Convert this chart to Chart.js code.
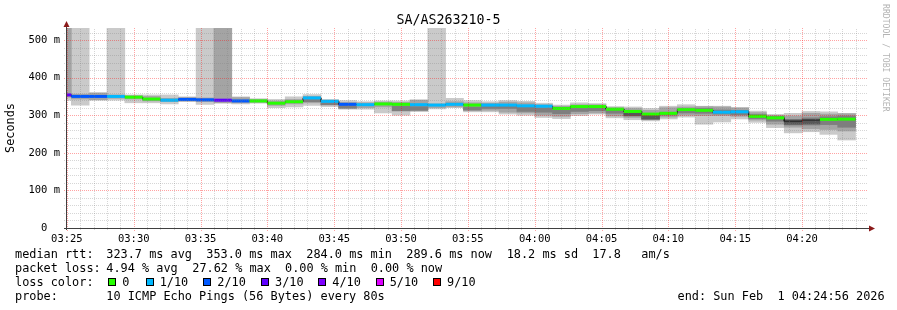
<!DOCTYPE html>
<html>
<head>
<meta charset="utf-8">
<title>SA/AS263210-5</title>
<script src="https://cdn.jsdelivr.net/npm/chart.js@4.4.1/dist/chart.umd.min.js"></script>
<style>
  html, body { margin:0; padding:0; background:#ffffff; }
  #wrap { position:relative; width:897px; height:310px; overflow:hidden; background:#fff;
          font-family:'DejaVu Sans Mono', monospace; color:#000; }
  #c { position:absolute; left:0; top:0; }
  .t { position:absolute; white-space:pre; font-size:11.86px; line-height:14px; }
  .sq { position:absolute; width:6px; height:6px; border:1px solid #000; top:278px; }
  #title { position:absolute; left:0; top:12px; width:897px; text-align:center; font-size:13.3px; line-height:16px; white-space:pre; }
  #rrd { position:absolute; left:881px; top:4px; writing-mode:vertical-rl; font-size:8.15px; line-height:10px; color:#b4b4b4; white-space:pre; }
</style>
</head>
<body>
<div id="wrap">
  <canvas id="c" width="897" height="310"></canvas>
  <div id="title">SA/AS263210-5</div>
  <div id="rrd">RRDTOOL / TOBI OETIKER</div>

  <span class="t" style="left:15px;top:247px">median rtt:</span>
  <span class="t" style="left:106.3px;top:247px">323.7 ms avg</span>
  <span class="t" style="left:206.3px;top:247px">353.0 ms max</span>
  <span class="t" style="left:306.3px;top:247px">284.0 ms min</span>
  <span class="t" style="left:406.3px;top:247px">289.6 ms now</span>
  <span class="t" style="left:506.7px;top:247px">18.2 ms sd</span>
  <span class="t" style="left:592.3px;top:247px">17.8</span>
  <span class="t" style="left:641.3px;top:247px">am/s</span>

  <span class="t" style="left:15px;top:261px">packet loss:</span>
  <span class="t" style="left:106.3px;top:261px">4.94 % avg</span>
  <span class="t" style="left:192.3px;top:261px">27.62 % max</span>
  <span class="t" style="left:285px;top:261px">0.00 % min</span>
  <span class="t" style="left:370.7px;top:261px">0.00 % now</span>

  <span class="t" style="left:15px;top:275px">loss color:</span>
  <span class="sq" id="sq0" style="left:108px"></span><span class="t" style="left:122.3px;top:275px">0</span>
  <span class="sq" id="sq1" style="left:145.5px"></span><span class="t" style="left:159.7px;top:275px">1/10</span>
  <span class="sq" id="sq2" style="left:203px"></span><span class="t" style="left:217.3px;top:275px">2/10</span>
  <span class="sq" id="sq3" style="left:260.5px"></span><span class="t" style="left:275px;top:275px">3/10</span>
  <span class="sq" id="sq4" style="left:318px"></span><span class="t" style="left:332.3px;top:275px">4/10</span>
  <span class="sq" id="sq5" style="left:375.5px"></span><span class="t" style="left:389.7px;top:275px">5/10</span>
  <span class="sq" id="sq9" style="left:433px"></span><span class="t" style="left:447px;top:275px">9/10</span>

  <span class="t" style="left:15px;top:289px">probe:</span>
  <span class="t" style="left:106.3px;top:289px">10 ICMP Echo Pings (56 Bytes) every 80s</span>
  <span class="t" style="left:677.5px;top:289px">end: Sun Feb  1 04:24:56 2026</span>
</div>
<script>
// ---------------- data ----------------
const END_TIME = '04:24:56';
const WINDOW_SEC = 3600;
const STEP_SEC = 80;
const Y_MAX = 532;            // top of value axis (ms); smoke of lost pings reaches it
const T = Y_MAX;

const xTickLabels = ['03:25','03:30','03:35','03:40','03:45','03:50','03:55','04:00','04:05','04:10','04:15','04:20'];
const yTickValues = [0, 100, 200, 300, 400, 500];

// end time of each 80 s step
const stepEnd = ['03:25:20','03:26:40','03:28:00','03:29:20','03:30:40','03:32:00','03:33:20','03:34:40','03:36:00',
  '03:37:20','03:38:40','03:40:00','03:41:20','03:42:40','03:44:00','03:45:20','03:46:40','03:48:00','03:49:20',
  '03:50:40','03:52:00','03:53:20','03:54:40','03:56:00','03:57:20','03:58:40','04:00:00','04:01:20','04:02:40',
  '04:04:00','04:05:20','04:06:40','04:08:00','04:09:20','04:10:40','04:12:00','04:13:20','04:14:40','04:16:00',
  '04:17:20','04:18:40','04:20:00','04:21:20','04:22:40','04:24:00'];

// median rtt (ms)
const median = [354,350,350,350,348,343,340,342,341,340,338,338,332,336,346,337,329,328,330,329,
  328,327,329,327,327,327,325,324,318,323,323,316,310,303,305,315,313,308,309,297,
  293,284,287,289,289.6];

// lost pings out of 10 (null = no loss colour drawn)
const loss = [3,2,2,1,0,0,1,2,2,3,2,0,0,0,1,1,2,1,0,0,1,1,1,0,1,1,1,1,0,0,0,0,0,0,0,0,0,1,1,0,0,null,null,0,0];

// smoke bands (ms): outer -> inner
const smoke1Lo = [340,327,340,340,333,333,330,336,329,333,330,332,320,322,326,323,316,316,306,300,
  311,317,320,309,309,303,300,294,291,299,303,293,288,285,290,295,276,282,290,281,267,253,256,249,234];
const smoke1Hi = [T,T,360,T,354,354,354,349,T,T,349,344,342,349,355,342,339,336,338,338,
  341,T,345,339,336,339,337,332,327,333,331,323,322,318,324,328,324,324,321,311,302,305,310,309,305];
const smoke2Lo = [348,343,341,345,343,338,336,338,336,333,333,334,326,330,333,327,318,320,322,311,
  311,320,322,312,313,308,306,300,297,304,306,298,294,288,295,300,299,299,297,287,276,268,264,262,258];
const smoke2Hi = [T,356,359,354,352,350,345,347,346,T,347,342,338,342,350,339,334,333,335,334,
  340,330,336,333,332,335,333,328,324,328,328,320,318,313,320,322,323,322,319,307,300,298,305,303,304];
const smoke3Lo = [null,null,null,null,null,null,null,null,null,null,null,null,null,null,336,328,319,null,null,312,
  313,null,null,314,318,318,310,308,304,310,312,305,298,289,300,306,305,303,301,291,284,274,274,275,268];
const smoke3Hi = [null,null,null,null,null,null,null,null,null,null,null,null,null,null,342,334,326,null,null,324,
  323,null,null,322,324,325,321,320,314,318,320,313,307,300,308,312,318,314,313,302,297,289,293,296,298];
const smoke4Lo = [null,null,null,null,null,null,null,null,null,null,null,null,null,null,null,null,null,null,null,null,
  null,null,null,null,null,null,null,null,null,null,null,null,299,290,null,null,null,null,null,null,null,276,277,null,null];
const smoke4Hi = [null,null,null,null,null,null,null,null,null,null,null,null,null,null,null,null,null,null,null,null,
  null,null,null,null,null,null,null,null,null,null,null,null,306,300,null,null,null,null,null,null,null,287,288,null,null];

const lossColors = {0:'#26ff00', 1:'#00b8ff', 2:'#0059ff', 3:'#5e00ff', 4:'#7e00ff', 5:'#dd00ff', 9:'#ff0000'};

// ---------------- styling ----------------
const FONT = 'DejaVu Sans Mono';
const GRID_MINOR = 'rgba(128,128,128,0.32)';
const GRID_MAJOR = 'rgba(255,0,0,0.36)';
const AXIS = '#404040';
const ARROW = '#8b1a1a';

Object.keys(lossColors).forEach(k => {
  const el = document.getElementById('sq' + k);
  if (el) el.style.background = lossColors[k];
});

const toSec = s => { const p = s.split(':').map(Number); return p[0]*3600 + p[1]*60 + (p[2] || 0); };
const pad2 = n => String(n).padStart(2, '0');
const fmt = v => pad2(Math.floor(v / 3600)) + ':' + pad2(Math.floor((v % 3600) / 60));
const X_MAX = toSec(END_TIME), X_MIN = X_MAX - WINDOW_SEC;

function band(lo, hi, color, order) {
  const data = [];
  stepEnd.forEach((t, i) => {
    if (lo[i] != null) data.push({x: toSec(t) - STEP_SEC / 2, y: [lo[i], hi[i]]});
  });
  return {type:'bar', data, backgroundColor: color, borderWidth: 0, grouped: false,
          barPercentage: 1, categoryPercentage: 1, order};
}

const medPts = [], colPts = [];
stepEnd.forEach((t, i) => {
  const e = toSec(t);
  medPts.push({x: e - STEP_SEC, y: median[i]}, {x: e, y: median[i]});
  colPts.push({x: e - STEP_SEC, y: median[i]}, {x: e, y: median[i]}, {x: e, y: null});
});

const rrdGrid = {
  id: 'rrdGrid',
  afterDatasetsDraw(chart) {
    const {ctx, chartArea: a, scales: {x, y}} = chart;
    ctx.save();
    ctx.lineWidth = 1;
    ctx.setLineDash([1, 1]);
    const hline = (v, col) => {
      const py = Math.round(y.getPixelForValue(v)) + 0.5;
      ctx.strokeStyle = col; ctx.beginPath(); ctx.moveTo(a.left - 2, py); ctx.lineTo(a.right, py); ctx.stroke();
    };
    const vline = (t, col, ext) => {
      const px = Math.round(x.getPixelForValue(t)) + 0.5;
      ctx.strokeStyle = col; ctx.beginPath(); ctx.moveTo(px, a.bottom + ext); ctx.lineTo(px, a.top); ctx.stroke();
    };
    for (let v = 20; v < Y_MAX; v += 20) if (v % 100) hline(v, GRID_MINOR);
    for (let t = Math.ceil(X_MIN / 60) * 60; t <= X_MAX; t += 60) if (t % 300) vline(t, GRID_MINOR, 2);
    for (let v = 100; v < Y_MAX; v += 100) hline(v, GRID_MAJOR);
    for (let t = Math.ceil(X_MIN / 300) * 300; t <= X_MAX; t += 300) vline(t, GRID_MAJOR, 3);
    ctx.setLineDash([]);
    // axes
    ctx.strokeStyle = AXIS;
    ctx.beginPath();
    ctx.moveTo(a.left - 2, a.bottom + 0.5); ctx.lineTo(a.right + 2, a.bottom + 0.5);
    ctx.moveTo(a.left + 0.5, a.bottom + 2); ctx.lineTo(a.left + 0.5, a.top - 3);
    ctx.stroke();
    ctx.fillStyle = ARROW;
    ctx.beginPath();
    ctx.moveTo(a.left + 0.5, a.top - 7); ctx.lineTo(a.left - 2.5, a.top - 1); ctx.lineTo(a.left + 3.5, a.top - 1); ctx.closePath();
    ctx.fill();
    ctx.beginPath();
    ctx.moveTo(a.right + 7, a.bottom + 0.5); ctx.lineTo(a.right + 1, a.bottom - 2.5); ctx.lineTo(a.right + 1, a.bottom + 3.5); ctx.closePath();
    ctx.fill();
    ctx.restore();
  }
};

new Chart(document.getElementById('c'), {
  type: 'bar',
  data: {
    datasets: [
      band(smoke1Lo, smoke1Hi, '#cacaca', 10),
      band(smoke2Lo, smoke2Hi, '#a4a4a4', 9),
      band(smoke3Lo, smoke3Hi, '#7e7e7e', 8),
      band(smoke4Lo, smoke4Hi, '#585858', 7),
      {type:'line', data: medPts, borderColor:'#202020', borderWidth:1, pointRadius:0, tension:0,
       fill:false, order:6, clip:0},
      {type:'line', data: colPts, borderColor:'#26ff00', borderWidth:3, pointRadius:0, tension:0,
       fill:false, order:5, clip:0, borderCapStyle:'butt', spanGaps:false,
       segment: { borderColor: c => {
         const l = loss[Math.floor(c.p0DataIndex / 3)];
         return l == null ? 'rgba(0,0,0,0)' : lossColors[l];
       } } }
    ]
  },
  options: {
    responsive: false,
    animation: false,
    events: [],
    layout: { padding: { top: 28, right: 29, left: 0, bottom: 0 } },
    plugins: { legend: { display: false }, tooltip: { enabled: false }, title: { display: false } },
    scales: {
      x: {
        type: 'linear', min: X_MIN, max: X_MAX, offset: false,
        grid: { display: false, drawTicks: false }, border: { display: false },
        afterBuildTicks: s => { s.ticks = xTickLabels.map(l => ({value: toSec(l)})); },
        ticks: { autoSkip: false, maxRotation: 0, padding: 5, color: '#000',
                 font: { family: FONT, size: 10.5 }, callback: v => fmt(v) },
        afterFit: s => { s.height = 82; }
      },
      y: {
        type: 'linear', min: 0, max: Y_MAX,
        grid: { display: false, drawTicks: false }, border: { display: false },
        afterBuildTicks: s => { s.ticks = yTickValues.map(v => ({value: v})); },
        ticks: { padding: 6, color: '#000', font: { family: FONT, size: 10.5 },
                 callback: v => v === 0 ? '  0  ' : v + ' m' },
        title: { display: true, text: 'Seconds', color: '#000', font: { family: FONT, size: 11.86 },
                 padding: { top: 4, bottom: 4 } },
        afterFit: s => { s.width = 66; }
      }
    }
  },
  plugins: [rrdGrid]
});
</script>
</body>
</html>
